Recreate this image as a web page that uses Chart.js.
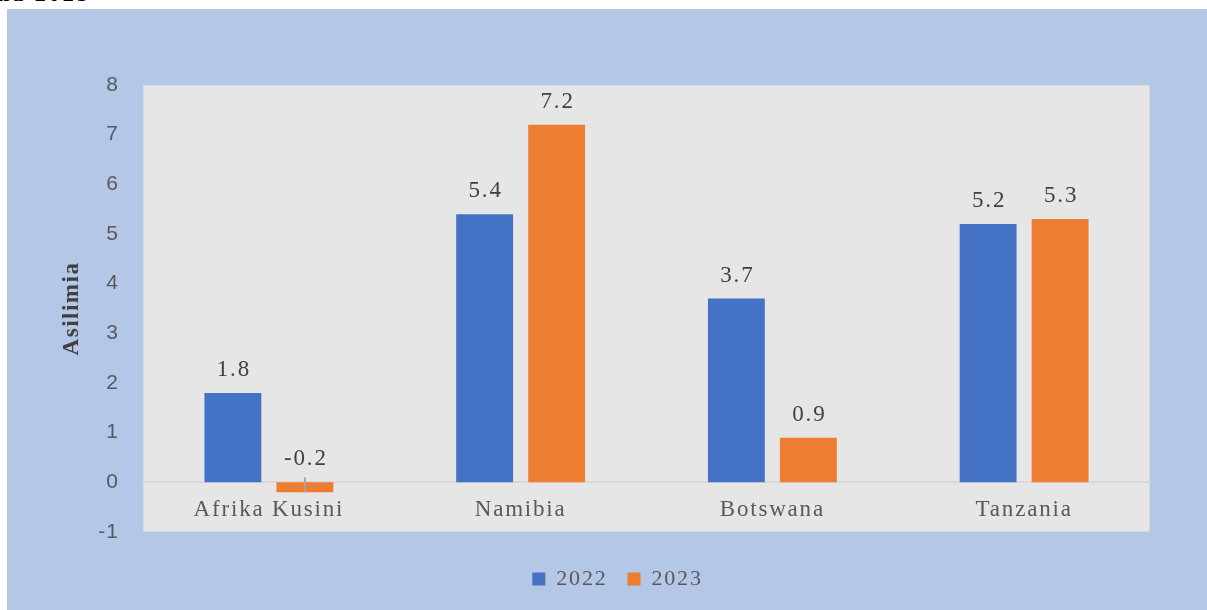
<!DOCTYPE html>
<html>
<head>
<meta charset="utf-8">
<script src="https://cdn.jsdelivr.net/npm/chart.js@4.4.1/dist/chart.umd.min.js"></script>
<style>
  html, body { margin: 0; padding: 0; background: #ffffff; overflow: hidden; }
  #wrap { position: absolute; left: 0; top: 0; width: 1207px; height: 610px; }
  #cut { position: absolute; left: -3px; top: -17px; font: bold 22px "Liberation Serif", serif; letter-spacing: 3px; line-height: 1; color: #000; white-space: nowrap; }
</style>
</head>
<body>
<div id="cut">na 2023</div>
<div id="wrap"><canvas id="c"></canvas></div>
<script>
// ---- data ----
const categories = ["Afrika Kusini", "Namibia", "Botswana", "Tanzania"];
const seriesNames = ["2022", "2023"];
const values2022 = [1.8, 5.4, 3.7, 5.2];
const values2023 = [-0.2, 7.2, 0.9, 5.3];
const yTicks = [-1, 0, 1, 2, 3, 4, 5, 6, 7, 8];
const yTitle = "Asilimia";

// ---- letter spacing by font (serif text in the reference is widely spaced) ----
(function () {
  const d = Object.getOwnPropertyDescriptor(CanvasRenderingContext2D.prototype, 'font');
  Object.defineProperty(CanvasRenderingContext2D.prototype, 'font', {
    configurable: true,
    get() { return d.get.call(this); },
    set(v) {
      d.set.call(this, v);
      if ('letterSpacing' in this) {
        if (/Serif/.test(v)) this.letterSpacing = /bold/.test(v) ? '1.5px' : '1.8px';
        else this.letterSpacing = '1px';
      }
    }
  });
})();

const bgPlugin = {
  id: 'bg',
  beforeDraw(chart) {
    const ctx = chart.ctx, a = chart.chartArea;
    ctx.save();
    ctx.fillStyle = '#b4c7e7';
    ctx.fillRect(7, 9, chart.width - 7, chart.height - 9);
    ctx.fillStyle = '#e6e6e6';
    ctx.fillRect(a.left, a.top, a.right - a.left, a.bottom - a.top);
    ctx.strokeStyle = '#d9d9d9';
    ctx.lineWidth = 1;
    ctx.strokeRect(a.left + 0.5, a.top + 0.5, a.right - a.left - 1, a.bottom - a.top - 1);
    ctx.restore();
  }
};

const labelPlugin = {
  id: 'vlabels',
  afterDatasetsDraw(chart) {
    const ctx = chart.ctx;
    chart.data.datasets.forEach((ds, i) => {
      const meta = chart.getDatasetMeta(i);
      meta.data.forEach((bar, j) => {
        const v = ds.data[j];
        const top = Math.min(bar.y, bar.base);
        ctx.save();
        if (v < 0) {
          ctx.strokeStyle = '#a6a6a6';
          ctx.lineWidth = 2;
          ctx.beginPath();
          ctx.moveTo(bar.x, bar.base - 5);
          ctx.lineTo(bar.x, bar.y);
          ctx.stroke();
        }
        ctx.font = '23px "Liberation Serif"';
        ctx.fillStyle = '#404040';
        ctx.textAlign = 'center';
        ctx.textBaseline = 'middle';
        ctx.fillText(v.toFixed(1), bar.x + 1, top - 23);
        ctx.restore();
      });
    });
  }
};

new Chart(document.getElementById('c'), {
  type: 'bar',
  data: {
    labels: categories,
    datasets: [
      { label: seriesNames[0], data: values2022, backgroundColor: '#4472c4', borderWidth: 0,
        categoryPercentage: 0.572, barPercentage: 0.79 },
      { label: seriesNames[1], data: values2023, backgroundColor: '#ed7d31', borderWidth: 0,
        categoryPercentage: 0.572, barPercentage: 0.79 }
    ]
  },
  options: {
    responsive: true,
    maintainAspectRatio: false,
    animation: false,
    layout: { padding: { left: 28, right: 0, top: 85, bottom: 10 } },
    scales: {
      x: {
        type: 'category',
        position: { y: 0 },
        grid: { display: false, drawTicks: false },
        border: { display: true, color: '#d9d9d9', width: 2 },
        ticks: { color: '#595959', font: { family: 'Liberation Serif', size: 23 }, padding: 14, maxRotation: 0, autoSkip: false }
      },
      y: {
        min: -1, max: 8,
        afterBuildTicks(scale) { scale.ticks = yTicks.map(v => ({ value: v })); },
        afterFit(scale) { scale.width = 115; },
        grid: { display: false, drawTicks: false },
        border: { display: false },
        ticks: { color: '#595959', font: { family: 'Liberation Sans', size: 21 }, padding: 24 },
        title: { display: true, text: yTitle, color: '#404040',
                 font: { family: 'Liberation Serif', size: 23, weight: 'bold' }, padding: { top: 30, bottom: 0 } }
      },
      yR: {
        position: 'right', display: true, min: 0, max: 1,
        afterFit(scale) { scale.width = 57; },
        grid: { display: false, drawTicks: false },
        border: { display: false },
        ticks: { display: false }
      }
    },
    plugins: {
      legend: {
        position: 'bottom',
        title: { display: true, text: ' ', font: { size: 16, lineHeight: 1 }, padding: 0 },
        labels: { boxWidth: 13, boxHeight: 13, padding: 20, color: '#595959',
                  font: { family: 'Liberation Serif', size: 22 } }
      },
      tooltip: { enabled: false }
    }
  },
  plugins: [bgPlugin, labelPlugin]
});
</script>
</body>
</html>
